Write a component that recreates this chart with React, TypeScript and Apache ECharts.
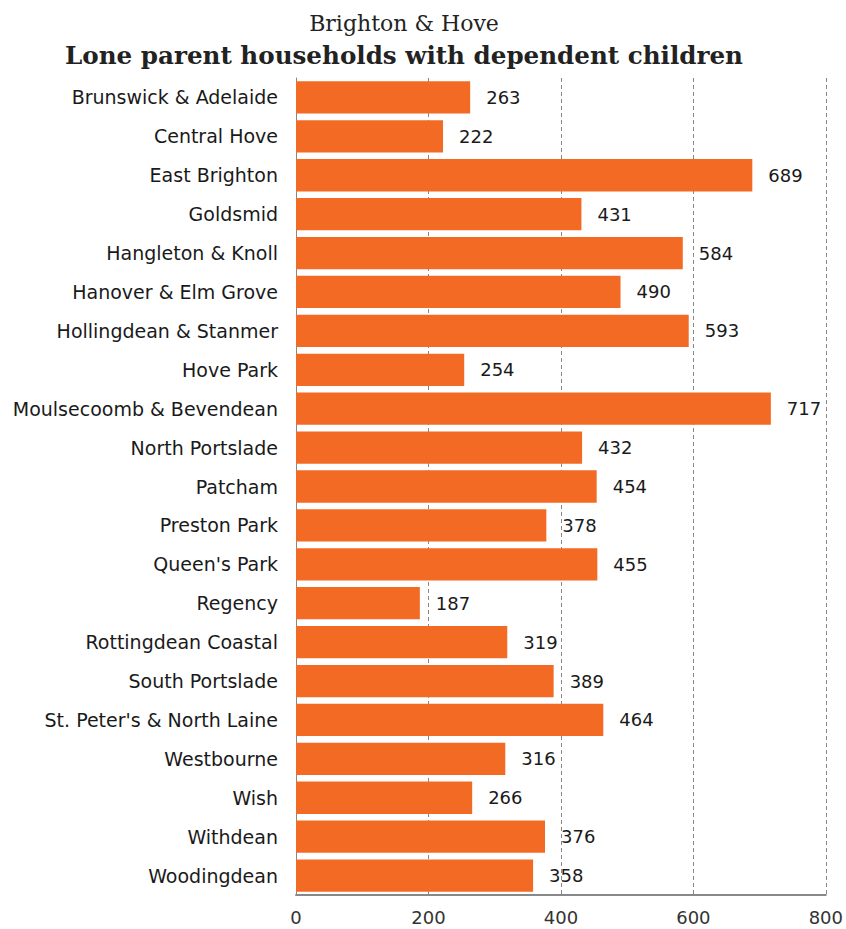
import React, { useEffect, useRef } from "react";
import * as echarts from "echarts";

const categories = [
  "Brunswick & Adelaide",
  "Central Hove",
  "East Brighton",
  "Goldsmid",
  "Hangleton & Knoll",
  "Hanover & Elm Grove",
  "Hollingdean & Stanmer",
  "Hove Park",
  "Moulsecoomb & Bevendean",
  "North Portslade",
  "Patcham",
  "Preston Park",
  "Queen's Park",
  "Regency",
  "Rottingdean Coastal",
  "South Portslade",
  "St. Peter's & North Laine",
  "Westbourne",
  "Wish",
  "Withdean",
  "Woodingdean",
];

const values = [263, 222, 689, 431, 584, 490, 593, 254, 717, 432, 454, 378, 455, 187, 319, 389, 464, 316, 266, 376, 358];

const titleLine1 = "Brighton & Hove";
const titleLine2 = "Lone parent households with dependent children";

const SANS = '"DejaVu Sans", "Liberation Sans", Arial, sans-serif';
const SERIF = '"DejaVu Serif", "Liberation Serif", serif';

export default function App() {
  const ref = useRef<HTMLDivElement>(null);
  useEffect(() => {
    if (!ref.current) return;
    const chart = echarts.init(ref.current, null, { renderer: "svg" });
    chart.setOption({
      animation: false,
      backgroundColor: "#ffffff",
      graphic: [
        {
          type: "text",
          x: 404,
          y: 23,
          style: {
            text: titleLine1,
            font: `22px ${SERIF}`,
            fill: "#222",
            align: "center",
            verticalAlign: "middle",
          },
        },
        {
          type: "text",
          x: 404,
          y: 55,
          style: {
            text: titleLine2,
            font: `bold 24.6px ${SERIF}`,
            fill: "#222",
            align: "center",
            verticalAlign: "middle",
          },
        },
      ],
      grid: { left: 296, right: 20, top: 78, bottom: 34, containLabel: false },
      xAxis: {
        type: "value",
        min: 0,
        max: 800,
        interval: 200,
        axisLine: { show: true, lineStyle: { color: "#888", width: 2 } },
        axisTick: { show: false },
        splitLine: { show: true, lineStyle: { color: "#888", type: [4, 3], width: 1 } },
        axisLabel: {
          color: "#333",
          fontSize: 18,
          fontFamily: SANS,
          margin: 13,
        },
      },
      yAxis: {
        type: "category",
        inverse: true,
        data: categories,
        axisLine: { show: true, lineStyle: { color: "#888", width: 1 } },
        axisTick: { show: false },
        axisLabel: {
          color: "#1a1a1a",
          fontSize: 19,
          fontFamily: SANS,
          margin: 18,
        },
      },
      series: [
        {
          type: "bar",
          data: values,
          barCategoryGap: "17%",
          itemStyle: { color: "#F36A24" },
          label: {
            show: true,
            position: "right",
            distance: 16,
            color: "#1a1a1a",
            fontSize: 18,
            fontFamily: SANS,
          },
        },
      ],
    });
    return () => chart.dispose();
  }, []);
  return (
    <div
      ref={ref}
      style={{ position: "fixed", left: 0, top: 0, width: 846, height: 929 }}
    />
  );
}
